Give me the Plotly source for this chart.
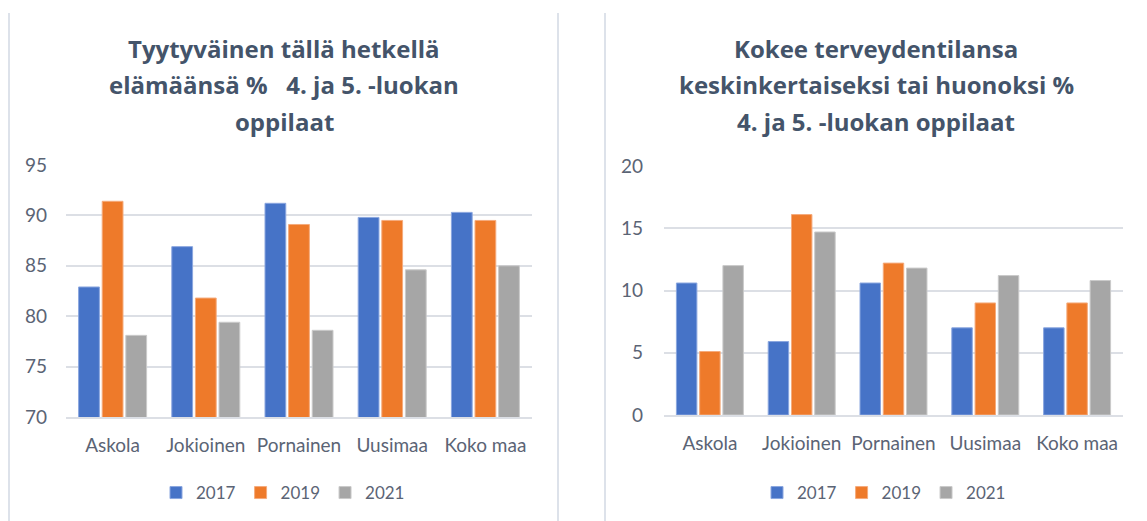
import plotly.graph_objects as go

categories = ["Askola", "Jokioinen", "Pornainen", "Uusimaa", "Koko maa"]
years = ["2017", "2019", "2021"]

# Left chart: Tyytyväinen tällä hetkellä elämäänsä %
left_2017 = [82.9, 86.9, 91.2, 89.8, 90.3]
left_2019 = [91.4, 81.8, 89.1, 89.5, 89.5]
left_2021 = [78.1, 79.4, 78.6, 84.6, 85.0]

# Right chart: Kokee terveydentilansa keskinkertaiseksi tai huonoksi %
right_2017 = [10.6, 5.9, 10.6, 7.0, 7.0]
right_2019 = [5.1, 16.1, 12.2, 9.0, 9.0]
right_2021 = [12.0, 14.7, 11.8, 11.2, 10.8]

left_title = ["Tyytyväinen tällä hetkellä", "elämäänsä %   4. ja 5. -luokan", "oppilaat"]
right_title = ["Kokee terveydentilansa", "keskinkertaiseksi tai huonoksi %", "4. ja 5. -luokan oppilaat"]

colors = ["#4673C7", "#EE7A2A", "#A6A6A6"]
edge = ["#8AA6DF", "#F5AB7C", "#CACACA"]

W, H = 1147, 521
FONT = "Lato"
TXT = "#5B6475"
TITLE = "#44546A"
GRID = "#DCDFE5"

fig = go.Figure()

for i, (yr, vals) in enumerate(zip(years, [left_2017, left_2019, left_2021])):
    fig.add_trace(go.Bar(x=categories, y=vals, name=yr, xaxis="x", yaxis="y",
                         marker=dict(color=colors[i], line=dict(color=edge[i], width=1)),
                         legend="legend"))
for i, (yr, vals) in enumerate(zip(years, [right_2017, right_2019, right_2021])):
    fig.add_trace(go.Bar(x=categories, y=vals, name=yr, xaxis="x2", yaxis="y2",
                         marker=dict(color=colors[i], line=dict(color=edge[i], width=1)),
                         legend="legend2"))

def px(x):
    return x / W

def py(y):
    return 1 - y / H

axis_font = dict(family=FONT, size=19, color=TXT)
legend_font = dict(family=FONT, size=17, color=TXT)

fig.update_layout(
    width=W, height=H,
    margin=dict(l=0, r=0, t=0, b=0, autoexpand=False),
    paper_bgcolor="white", plot_bgcolor="white",
    barmode="group", bargap=0.24, bargroupgap=0.12,
    font=dict(family=FONT, color=TXT),
    xaxis=dict(domain=[px(66), px(532)], anchor="y", tickfont=axis_font,
               showgrid=False, showline=True, linecolor=GRID, linewidth=2,
               ticks="", ticklabelstandoff=10, automargin=False),
    yaxis=dict(domain=[py(417), py(165)], anchor="x", range=[70, 95], dtick=5,
               tickfont=axis_font, showgrid=True, gridcolor=GRID, gridwidth=2,
               zeroline=False, showline=False, ticks="", ticklabelstandoff=18,
               automargin=False),
    xaxis2=dict(domain=[px(664), px(1123)], anchor="y2", tickfont=axis_font,
                showgrid=False, showline=True, linecolor=GRID, linewidth=2,
                ticks="", ticklabelstandoff=10, automargin=False),
    yaxis2=dict(domain=[py(415), py(166)], anchor="x2", range=[0, 20], dtick=5,
                tickfont=axis_font, showgrid=True, gridcolor=GRID, gridwidth=2,
                zeroline=False, showline=False, ticks="", ticklabelstandoff=20,
                automargin=False),
    legend=dict(orientation="h", x=px(283), xanchor="center", y=py(493), yanchor="middle",
                font=legend_font, itemwidth=30,
                bgcolor="rgba(0,0,0,0)", traceorder="normal"),
    legend2=dict(orientation="h", x=px(884), xanchor="center", y=py(493), yanchor="middle",
                 font=legend_font, itemwidth=30,
                 bgcolor="rgba(0,0,0,0)", traceorder="normal"),
)

# panel separators
for xv in [9, 558, 605]:
    fig.add_shape(type="line", xref="paper", yref="paper",
                  x0=px(xv), x1=px(xv), y0=py(13), y1=py(521),
                  line=dict(color="#DDE2EA", width=2))

line_y = [49, 85, 121]
for txt, yv in zip(left_title, line_y):
    fig.add_annotation(text="<b>%s</b>" % txt, xref="paper", yref="paper",
                       x=px(284), y=py(yv), xanchor="center", yanchor="middle",
                       showarrow=False, font=dict(family="Open Sans", size=24, color=TITLE))
for txt, yv in zip(right_title, line_y):
    fig.add_annotation(text="<b>%s</b>" % txt, xref="paper", yref="paper",
                       x=px(876), y=py(yv), xanchor="center", yanchor="middle",
                       showarrow=False, font=dict(family="Open Sans", size=24, color=TITLE))

fig.write_html("out.html", config={"displayModeBar": False},
               post_script="document.body.style.margin='0';")
